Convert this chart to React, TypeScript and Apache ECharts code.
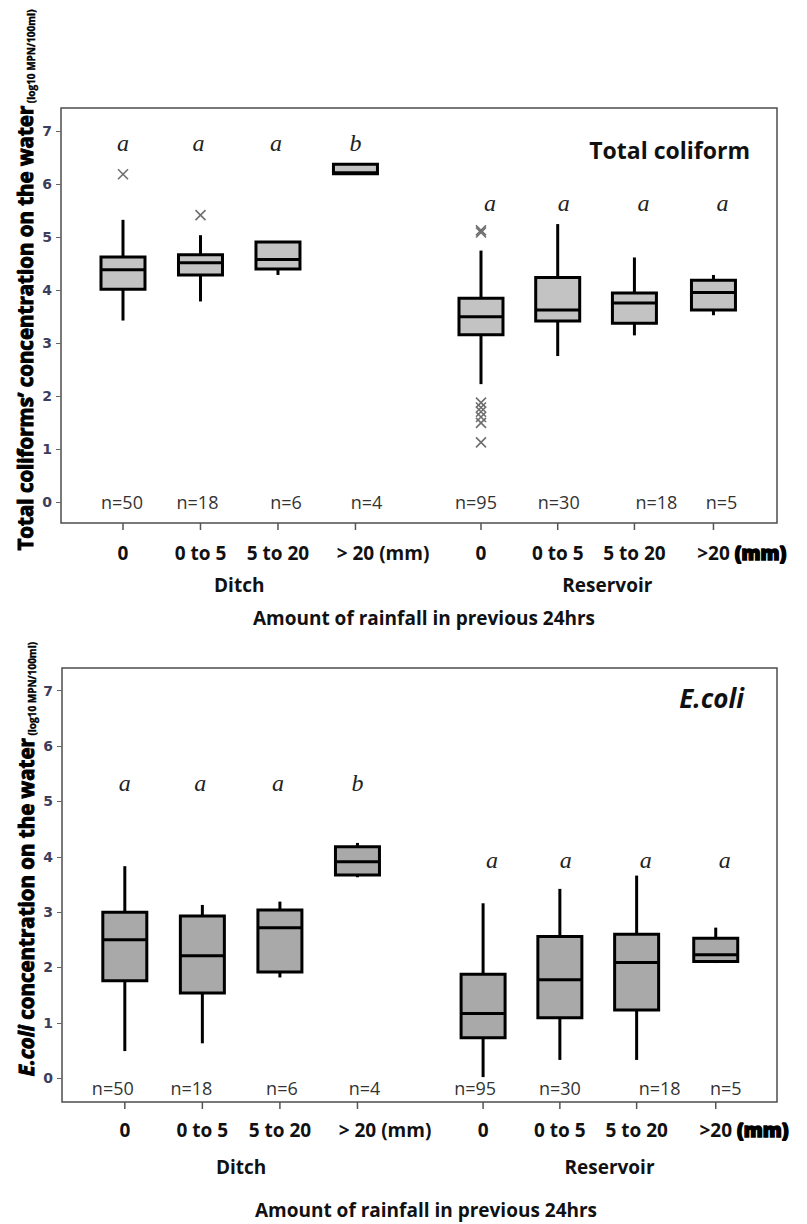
import React, { useEffect, useRef } from "react";
import * as echarts from "echarts";

// ---------- data ----------
const categories = ["0", "0 to 5", "5 to 20", "> 20", "0", "0 to 5", "5 to 20", ">20"];
const categoryUnits = ["", "", "", " (mm)", "", "", "", " (mm)"];
const categoryPos = [0, 1, 2, 3, 4.62, 5.61, 6.6, 7.62];
const groups = ["Ditch", "Reservoir"];
const groupPos = [1.5, 6.25];
const sampleSizes = ["n=50", "n=18", "n=6", "n=4", "n=95", "n=30", "n=18", "n=5"];
const yTicks = [0, 1, 2, 3, 4, 5, 6, 7];

// [min, Q1, median, Q3, max]  (log10 MPN/100ml)
const coliformBoxes = [
  [3.42, 4.01, 4.38, 4.62, 5.32],
  [3.78, 4.28, 4.51, 4.66, 5.03],
  [4.28, 4.39, 4.57, 4.9, 4.9],
  [6.18, 6.19, 6.21, 6.37, 6.38],
  [2.22, 3.15, 3.49, 3.84, 4.74],
  [2.75, 3.41, 3.62, 4.23, 5.24],
  [3.14, 3.37, 3.75, 3.94, 4.61],
  [3.52, 3.62, 3.95, 4.18, 4.28],
];
// [category index, value]
const coliformOutliers = [
  [0, 6.18], [1, 5.41], [4, 5.08], [4, 5.12],
  [4, 1.87], [4, 1.78], [4, 1.7], [4, 1.6], [4, 1.49], [4, 1.12],
];
const coliformLetters = ["a", "a", "a", "b", "a", "a", "a", "a"];
const coliformLetterY = [6.77, 6.77, 6.77, 6.77, 5.64, 5.64, 5.64, 5.64];

const ecoliBoxes = [
  [0.49, 1.76, 2.5, 3.0, 3.83],
  [0.63, 1.54, 2.21, 2.93, 3.13],
  [1.82, 1.92, 2.72, 3.04, 3.19],
  [3.63, 3.67, 3.91, 4.18, 4.25],
  [0.02, 0.73, 1.17, 1.88, 3.16],
  [0.33, 1.09, 1.78, 2.56, 3.42],
  [0.33, 1.23, 2.09, 2.6, 3.66],
  [2.08, 2.11, 2.23, 2.53, 2.72],
];
const ecoliOutliers: number[][] = [];
const ecoliLetters = ["a", "a", "a", "b", "a", "a", "a", "a"];
const ecoliLetterY = [5.33, 5.33, 5.33, 5.33, 3.94, 3.94, 3.94, 3.94];

// ---------- layout / style ----------
const CAT_FONT = 'bold 19px "Open Sans"';
const HEAVY_FONT = '900 19px "Open Sans"';
const N_FONT = '18px "Open Sans"';
const LETTER_FONT = 'italic 24px "Liberation Serif"';
const BOX_W = 44;

const panels = [
  {
    grid: { left: 61, top: 108, width: 716, height: 415 },
    xMin: -0.8, xMax: 8.44, yMin: -0.4, yMax: 7.43,
    fill: "#c3c3c3",
    boxes: coliformBoxes, outliers: coliformOutliers,
    letters: coliformLetters, letterY: coliformLetterY,
    nY: 0, nDx: [-1, -3, 8, 11, -5, 1, 22, 8],
    labelDy: 30, groupDy: 62, titleDy: 95,
  },
  {
    grid: { left: 62, top: 668, width: 715, height: 434 },
    xMin: -0.81, xMax: 8.41, yMin: -0.43, yMax: 7.41,
    fill: "#a9a9a9",
    boxes: ecoliBoxes, outliers: ecoliOutliers,
    letters: ecoliLetters, letterY: ecoliLetterY,
    nY: -0.18, nDx: [-12, -11, 2, 7, -8, 0, 23, 10],
    labelDy: 28, groupDy: 65, titleDy: 108,
  },
];
const letterDx = [0, -2, -2, 0, 9, 6, 9, 9];

let measureCtx: CanvasRenderingContext2D | null = null;
function measure(text: string, font: string) {
  if (!measureCtx) measureCtx = document.createElement("canvas").getContext("2d");
  if (!measureCtx) return text.length * 9;
  measureCtx.font = font;
  return measureCtx.measureText(text).width;
}

function buildOption() {
  const grid: any[] = [];
  const xAxis: any[] = [];
  const yAxis: any[] = [];
  const series: any[] = [];

  panels.forEach((P, pi) => {
    grid.push({ ...P.grid, show: true, borderColor: "#4d4d4d", borderWidth: 1.5, backgroundColor: "#fff" });
    xAxis.push({ type: "value", gridIndex: pi, min: P.xMin, max: P.xMax, show: false });
    yAxis.push({
      type: "value", gridIndex: pi, min: P.yMin, max: P.yMax, position: "left",
      axisLine: { show: false, onZero: false },
      splitLine: { show: false },
      axisTick: { show: true, length: 5, customValues: yTicks, lineStyle: { color: "#666", width: 1 } },
      axisLabel: {
        customValues: yTicks, margin: 9, color: "#3d3d5c", fontSize: 14, fontWeight: "bold",
        fontFamily: "DejaVu Sans",
      },
    });

    // boxes
    series.push({
      type: "custom", name: `boxes${pi}`, xAxisIndex: pi, yAxisIndex: pi, clip: false,
      data: P.boxes.map((b, i) => [categoryPos[i], ...b]),
      renderItem: (params: any, api: any) => {
        const x = api.coord([api.value(0), 0])[0];
        const y = (k: number) => api.coord([api.value(0), api.value(k)])[1];
        const lo = y(1), q1 = y(2), med = y(3), q3 = y(4), hi = y(5);
        const h = BOX_W / 2;
        const st = { stroke: "#000", lineWidth: 3 };
        return {
          type: "group",
          children: [
            { type: "line", shape: { x1: x, y1: hi, x2: x, y2: q3 }, style: st },
            { type: "line", shape: { x1: x, y1: q1, x2: x, y2: lo }, style: st },
            { type: "rect", shape: { x: x - h, y: q3, width: BOX_W, height: q1 - q3 }, style: { fill: P.fill, stroke: "#000", lineWidth: 3 } },
            { type: "line", shape: { x1: x - h, y1: med, x2: x + h, y2: med }, style: st },
          ],
        };
      },
    });

    // outliers
    if (P.outliers.length) {
      series.push({
        type: "custom", name: `outliers${pi}`, xAxisIndex: pi, yAxisIndex: pi, clip: false,
        data: P.outliers.map((o) => [categoryPos[o[0]], o[1]]),
        renderItem: (params: any, api: any) => {
          const [cx, cy] = api.coord([api.value(0), api.value(1)]);
          const r = 5;
          const st = { stroke: "#6e6e6e", lineWidth: 1.6 };
          return {
            type: "group",
            children: [
              { type: "line", shape: { x1: cx - r, y1: cy - r, x2: cx + r, y2: cy + r }, style: st },
              { type: "line", shape: { x1: cx - r, y1: cy + r, x2: cx + r, y2: cy - r }, style: st },
            ],
          };
        },
      });
    }

    // significance letters
    series.push({
      type: "custom", name: `letters${pi}`, xAxisIndex: pi, yAxisIndex: pi, clip: false,
      data: P.letterY.map((v, i) => [categoryPos[i], v]),
      renderItem: (params: any, api: any) => {
        const i = params.dataIndex;
        const [cx, cy] = api.coord([api.value(0), api.value(1)]);
        return {
          type: "text", x: cx + letterDx[i], y: cy,
          style: { text: P.letters[i], align: "center", verticalAlign: "middle", font: LETTER_FONT, fill: "#222" },
        };
      },
    });

    // sample sizes
    series.push({
      type: "custom", name: `n${pi}`, xAxisIndex: pi, yAxisIndex: pi, clip: false,
      data: categoryPos.map((p) => [p, P.nY]),
      renderItem: (params: any, api: any) => {
        const i = params.dataIndex;
        const [cx, cy] = api.coord([api.value(0), api.value(1)]);
        return {
          type: "text", x: cx + P.nDx[i], y: cy,
          style: { text: sampleSizes[i], align: "center", verticalAlign: "middle", font: N_FONT, fill: "#333" },
        };
      },
    });

    // category ticks + labels
    series.push({
      type: "custom", name: `cats${pi}`, xAxisIndex: pi, yAxisIndex: pi, clip: false,
      data: categoryPos.map((p) => [p, 0]),
      renderItem: (params: any, api: any) => {
        const i = params.dataIndex;
        const cs = params.coordSys;
        const bottom = cs.y + cs.height;
        const x = api.coord([api.value(0), 0])[0];
        const ly = bottom + P.labelDy;
        const children: any[] = [
          { type: "line", shape: { x1: x, y1: bottom, x2: x, y2: bottom + 7 }, style: { stroke: "#555", lineWidth: 1.5 } },
          { type: "text", x, y: ly, style: { text: categories[i], align: "center", verticalAlign: "middle", font: CAT_FONT, fill: "#111" } },
        ];
        if (categoryUnits[i]) {
          const w = measure(categories[i], CAT_FONT);
          const heavy = i === categories.length - 1;
          children.push({
            type: "text", x: x + w / 2, y: ly,
            style: heavy
              ? { text: categoryUnits[i], align: "left", verticalAlign: "middle", font: HEAVY_FONT, fill: "#000", stroke: "#000", lineWidth: 1.4 }
              : { text: categoryUnits[i], align: "left", verticalAlign: "middle", font: CAT_FONT, fill: "#111" },
          });
        }
        return { type: "group", children };
      },
    });

    // group labels
    series.push({
      type: "custom", name: `groups${pi}`, xAxisIndex: pi, yAxisIndex: pi, clip: false,
      data: groupPos.map((p) => [p, 0]),
      renderItem: (params: any, api: any) => {
        const i = params.dataIndex;
        const cs = params.coordSys;
        const x = api.coord([api.value(0), 0])[0];
        return {
          type: "text", x, y: cs.y + cs.height + P.groupDy,
          style: { text: groups[i], align: "center", verticalAlign: "middle", font: CAT_FONT, fill: "#111" },
        };
      },
    });
  });

  const graphic: any[] = [
    {
      type: "text", x: 25, y: 280, rotation: Math.PI / 2,
      style: {
        text: "{b|Total coliforms\u2019 concentration on the water}{s| (log10 MPN/100ml)}",
        align: "center", verticalAlign: "middle",
        rich: {
          b: { font: 'bold 20.5px "Open Sans"', fill: "#000", stroke: "#000", lineWidth: 1 },
          s: { font: 'bold 10px "Open Sans"', fill: "#000", stroke: "#000", lineWidth: 0.4, verticalAlign: "bottom" },
        },
      },
    },
    {
      type: "text", x: 26, y: 859, rotation: Math.PI / 2,
      style: {
        text: "{i|E.coli}{b| concentration on the water}{s| (log10 MPN/100ml)}",
        align: "center", verticalAlign: "middle",
        rich: {
          i: { font: 'italic bold 20.5px "Open Sans"', fill: "#000", stroke: "#000", lineWidth: 1 },
          b: { font: 'bold 20.5px "Open Sans"', fill: "#000", stroke: "#000", lineWidth: 1 },
          s: { font: 'bold 10px "Open Sans"', fill: "#000", stroke: "#000", lineWidth: 0.4, verticalAlign: "bottom" },
        },
      },
    },
    {
      type: "text", x: 750, y: 150,
      style: { text: "Total coliform", align: "right", verticalAlign: "middle", font: 'bold 23px "Open Sans"', fill: "#111" },
    },
    {
      type: "text", x: 744, y: 698,
      style: { text: "E.coli", align: "right", verticalAlign: "middle", font: 'italic bold 26px "Open Sans"', fill: "#111" },
    },
    {
      type: "text", x: 424, y: 108 + 415 + panels[0].titleDy,
      style: { text: "Amount of rainfall in previous 24hrs", align: "center", verticalAlign: "middle", font: CAT_FONT, fill: "#111" },
    },
    {
      type: "text", x: 426, y: 668 + 434 + panels[1].titleDy,
      style: { text: "Amount of rainfall in previous 24hrs", align: "center", verticalAlign: "middle", font: CAT_FONT, fill: "#111" },
    },
  ];

  return { animation: false, backgroundColor: "#fff", grid, xAxis, yAxis, series, graphic };
}

export default function App() {
  const ref = useRef<HTMLDivElement>(null);
  useEffect(() => {
    if (!ref.current) return;
    const chart = echarts.init(ref.current, undefined, { renderer: "svg" });
    chart.setOption(buildOption());
    return () => chart.dispose();
  }, []);
  return (
    <div
      ref={ref}
      style={{ position: "absolute", left: 0, top: 0, width: 807, height: 1224, background: "#fff" }}
    />
  );
}
